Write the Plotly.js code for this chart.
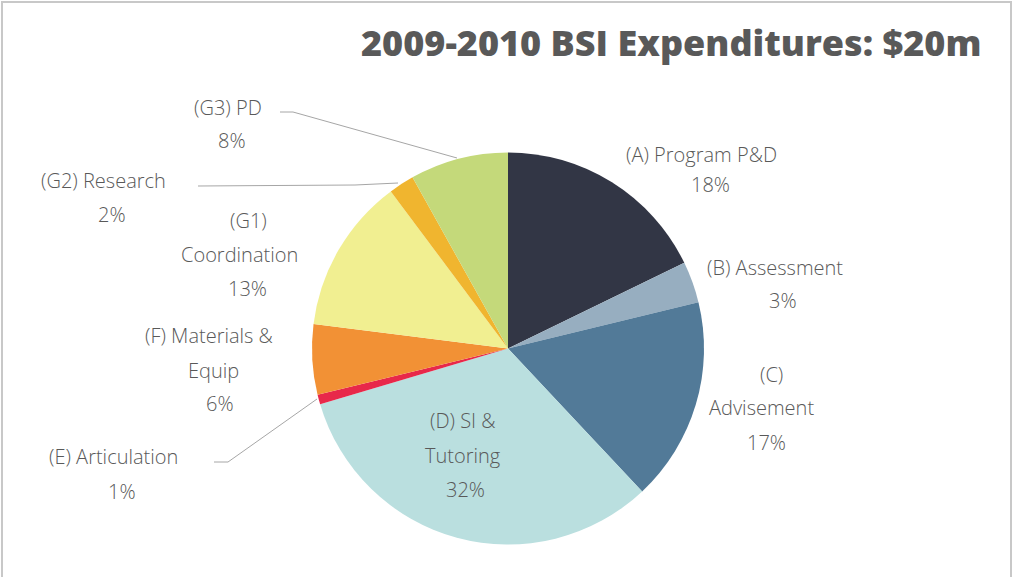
<!DOCTYPE html>
<html>
<head>
<meta charset="utf-8">
<script src="https://cdn.plot.ly/plotly-3.0.1.min.js"></script>
<style>
  html, body { margin: 0; padding: 0; background: #ffffff; }
  #chart { width: 1013px; height: 577px; }
</style>
</head>
<body>
<div id="chart"></div>
<script>
// ---- data ----
var categories = ["(A) Program P&D", "(B) Assessment", "(C) Advisement", "(D) SI & Tutoring",
                  "(E) Articulation", "(F) Materials & Equip", "(G1) Coordination",
                  "(G2) Research", "(G3) PD"];
var values = [17.8, 3.4, 16.8, 32.4, 0.8, 5.8, 12.8, 2.1, 8.1];
// label lines as they wrap in the picture
var labelLines = [
  ["(A) Program P&D"],
  ["(B) Assessment"],
  ["(C)", "Advisement"],
  ["(D) SI &", "Tutoring"],
  ["(E) Articulation"],
  ["(F) Materials &", "Equip"],
  ["(G1)", "Coordination"],
  ["(G2) Research"],
  ["(G3) PD"]
];
var percentLabels = ["18%", "3%", "17%", "32%", "1%", "6%", "13%", "2%", "8%"];
var title = "2009-2010 BSI Expenditures: $20m";

// ---- styles / layout positions (pixels) ----
var colors = ["#323645", "#97aec0", "#527a98", "#badfdf", "#e8284a",
              "#f29135", "#f1ef91", "#f0b52f", "#c4d97a"];
// x,y of each text line (name lines then percent line)
var labelPos = [
  [[701, 155], [710, 185]],
  [[775, 267], [783, 300]],
  [[771, 374], [761, 407], [766, 442]],
  [[463, 421], [463, 455], [465, 489]],
  [[113, 456], [122, 491]],
  [[209, 335], [213, 370], [220, 403]],
  [[248, 220], [239, 254], [247, 288]],
  [[103, 180], [112, 215]],
  [[228, 107], [232, 141]]
];
var leaders = [
  [[280, 112], [293, 112], [457, 158]],
  [[198, 186], [355, 185], [398, 183]],
  [[214, 462], [228, 462], [317, 399]]
];

var W = 1013, H = 577;
function px(x) { return x / W; }
function py(y) { return 1 - y / H; }

var cx = 508, cy = 348.5, r = 196;

var trace = {
  type: "pie",
  labels: categories,
  values: values,
  sort: false,
  direction: "clockwise",
  rotation: 0,
  textinfo: "none",
  hoverinfo: "label+percent",
  marker: { colors: colors, line: { width: 0 } },
  domain: { x: [px(cx - r), px(cx + r)], y: [py(cy + r), py(cy - r)] },
  showlegend: false,
  automargin: false
};

var annotations = [];
labelLines.forEach(function (lines, i) {
  var all = lines.concat([percentLabels[i]]);
  all.forEach(function (t, j) {
    var p = labelPos[i][j];
    annotations.push({
      xref: "paper", yref: "paper",
      x: px(p[0]), y: py(p[1]),
      xanchor: "center", yanchor: "middle",
      text: t, showarrow: false,
      font: { family: "Open Sans, sans-serif", size: 20, weight: 300, color: "#595959" }
    });
  });
});
annotations.push({
  xref: "paper", yref: "paper",
  x: px(983), y: py(42),
  xanchor: "right", yanchor: "middle",
  text: title, showarrow: false,
  font: { family: "Open Sans, sans-serif", size: 36, weight: 800, color: "#595959" }
});

var shapes = leaders.map(function (pts) {
  var d = pts.map(function (p, k) { return (k ? "L" : "M") + px(p[0]) + "," + py(p[1]); }).join(" ");
  return { type: "path", xref: "paper", yref: "paper", path: d,
           line: { color: "#a6a6a6", width: 1 } };
});
shapes.push({
  type: "rect", xref: "paper", yref: "paper",
  x0: px(2), x1: px(1011), y0: py(590), y1: py(2),
  line: { color: "#c8c8c8", width: 2 }
});

var layout = {
  width: W, height: H,
  margin: { l: 0, r: 0, t: 0, b: 0 },
  paper_bgcolor: "#ffffff",
  plot_bgcolor: "#ffffff",
  showlegend: false,
  annotations: annotations,
  shapes: shapes
};

Plotly.newPlot("chart", [trace], layout, { displayModeBar: false, staticPlot: true });
</script>
</body>
</html>
